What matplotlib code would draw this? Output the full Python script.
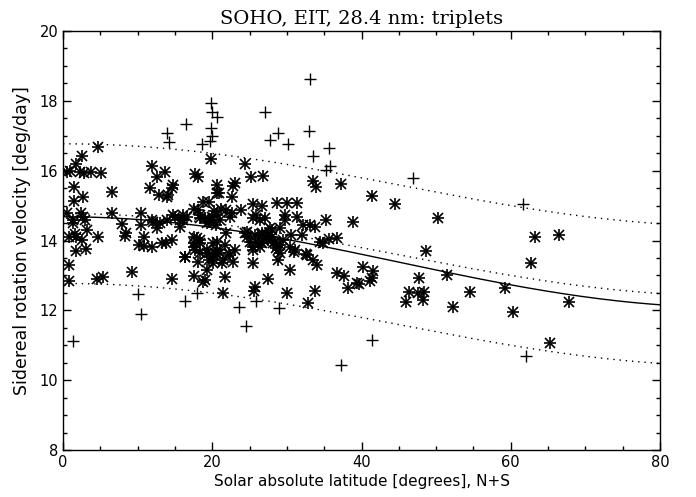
import numpy as np
import matplotlib
matplotlib.use("Agg")
import matplotlib.pyplot as plt
from matplotlib.ticker import MultipleLocator

TITLE = "SOHO, EIT, 28.4 nm: triplets"
XLABEL = "Solar absolute latitude [degrees], N+S"
YLABEL = "Sidereal rotation velocity [deg/day]"

# tracers inside the +/- 2 deg/day band (asterisks)
ast_lat = [
    4.7, 2.6, 1.8, 0.5, 0.9, 2.3, 2.8, 3.8, 5.1, 1.5, 2.7, 1.5, 6.6, 0.5, 2.4,
    1.4, 2.7, 6.5, 7.9, 8.5, 8.3, 4.7, 3.2, 0.8, 1.8, 2.5, 1.8, 3.1, 0.8, 0.8,
    4.5, 5.3, 9.3, 1.4, 1.6, 2.9,
    10.5, 10.5, 10.8, 10.2, 10.8, 11.9, 13.2, 13.8, 14.6, 11.9, 12.6, 13.7,
    11.7, 12.8, 13.9, 11.9, 12.6, 13.9, 13.0, 12.1, 14.8, 14.6, 14.1, 14.8,
    15.0, 15.7, 14.6, 15.7, 16.1, 16.6, 16.1,
    19.8, 17.7, 18.1, 20.6, 20.6, 18.8, 19.5, 17.5, 18.4, 19.3, 20.1, 17.5,
    18.4, 16.3, 17.7, 19.3, 20.4, 17.5, 19.0, 19.3, 17.5, 18.4, 18.1, 20.1,
    20.6, 18.4, 19.0, 19.9, 20.6, 21.0, 17.9, 18.4, 17.5, 20.1, 20.6, 19.3,
    21.0, 19.9, 18.8, 20.9, 16.4, 21.9, 21.7, 21.7, 21.5, 21.9, 22.4, 22.6,
    20.1, 21.5, 22.2, 21.3, 19.5, 18.1, 20.2, 21.2, 19.5, 20.5,
    23.0, 22.4, 22.8, 24.4, 25.2, 26.8, 23.0, 22.8, 22.6, 23.9, 25.5, 26.6,
    28.7, 30.0, 31.4, 25.5, 26.4, 27.1, 25.9, 29.7, 31.3, 29.7, 32.2, 33.1,
    33.8, 29.1, 28.0, 24.4, 25.7, 26.6, 27.5, 24.6, 25.1, 25.5, 26.4, 25.9,
    26.8, 28.4, 29.1, 28.8, 30.4, 31.1, 30.9, 30.6, 32.0, 34.4, 34.9, 36.7,
    35.7, 32.7, 33.5, 34.0, 25.5, 28.8, 30.4, 27.5, 25.7, 25.6, 30.0, 33.8,
    32.8, 36.7, 37.6, 39.4, 38.2, 33.5, 33.9, 37.3, 35.3, 38.8, 29.5, 28.6,
    29.1, 32.6, 26.6, 25.5, 27.5, 27.7, 28.0, 28.2, 24.6, 26.6,
    40.2, 41.6, 41.4, 41.1, 39.6, 41.4, 44.5, 50.3, 63.2, 66.5, 62.7, 48.7,
    47.7, 51.5, 46.3, 46.0, 47.6, 48.4, 48.3, 54.5, 52.3, 59.2, 60.3, 65.2,
    67.8,
]
ast_vel = [
    16.69, 16.42, 16.18, 15.97, 16.00, 15.97, 15.92, 15.97, 15.94, 15.52, 15.26,
    15.14, 15.40, 14.80, 14.80, 14.59, 14.67, 14.78, 14.47, 14.21, 14.13, 14.09,
    14.30, 14.11, 14.09, 14.01, 13.70, 13.75, 13.30, 12.84, 12.90, 12.96, 13.11,
    14.49, 14.18, 14.59,
    14.78, 14.44, 14.11, 13.87, 13.84, 13.82, 13.92, 13.94, 14.01, 16.14, 15.83,
    15.97, 15.49, 15.30, 15.26, 14.59, 14.35, 14.59, 14.49, 14.54, 15.59, 15.49,
    15.30, 14.73, 14.68, 14.59, 12.90, 14.40, 14.59, 14.68, 14.73,
    16.33, 15.90, 15.83, 15.59, 15.35, 15.11, 15.11, 14.89, 14.64, 14.49, 14.59,
    14.11, 14.01, 13.54, 13.73, 13.63, 13.63, 12.98, 12.87, 13.16, 13.82, 13.63,
    13.39, 13.59, 13.97, 14.73, 14.64, 14.68, 14.73, 14.59, 14.06, 13.92, 13.92,
    13.92, 13.73, 13.73, 13.63, 13.54, 12.82, 15.37, 13.52, 14.21, 13.87, 12.96,
    12.51, 14.87, 14.68, 14.78, 13.35, 13.44, 13.63, 13.35, 13.44, 14.87, 14.85,
    14.90, 14.52, 14.45,
    13.73, 13.59, 13.39, 16.18, 15.83, 15.86, 15.64, 15.56, 15.24, 14.87, 15.05,
    14.99, 15.07, 15.07, 15.07, 14.64, 14.59, 14.64, 14.73, 14.73, 14.68, 14.59,
    14.44, 14.44, 14.40, 14.35, 14.30, 14.21, 14.16, 14.21, 14.16, 14.11, 13.97,
    13.82, 13.82, 13.97, 14.01, 13.97, 13.87, 13.73, 13.82, 13.73, 13.68, 14.16,
    14.16, 13.97, 13.92, 14.06, 14.03, 13.59, 13.44, 13.30, 13.35, 13.44, 13.16,
    12.89, 12.68, 12.56, 12.49, 12.55, 12.20, 13.06, 12.98, 12.77, 12.63, 15.71,
    15.54, 15.61, 14.59, 14.54, 14.01, 13.78, 13.63, 13.61, 13.92, 13.73, 14.01,
    14.35, 14.11, 13.92, 14.25, 14.16,
    13.23, 13.14, 12.92, 12.85, 12.75, 15.28, 15.04, 14.65, 14.09, 14.16, 13.35,
    13.70, 12.92, 13.01, 12.53, 12.25, 12.49, 12.53, 12.30, 12.53, 12.10, 12.63,
    11.94, 11.07, 12.25,
]

# tracers outside the band (plus signs)
plus_lat = [
    13.9, 14.2, 16.5, 19.8, 20.0, 20.6, 19.8, 19.9, 19.7, 18.6, 27.1, 28.8,
    27.7, 30.1, 32.9, 33.1, 33.5, 35.7, 35.8, 35.3, 46.9, 61.6,
    1.3, 10.0, 10.4, 16.3, 17.9, 23.6, 24.5, 25.8, 28.9, 37.2, 41.4, 62.0,
]
plus_vel = [
    17.07, 16.83, 17.34, 17.93, 17.69, 17.55, 17.21, 16.99, 16.85, 16.75, 17.67,
    17.09, 16.88, 16.76, 17.15, 18.62, 16.43, 16.64, 16.12, 16.02, 15.78, 15.04,
    11.12, 12.47, 11.89, 12.27, 12.51, 12.09, 11.56, 12.27, 12.06, 10.44, 11.15,
    10.69,
]

# fitted differential rotation: A + B sin^2(lat) (+ C sin^4(lat))
fit_solid = (14.68, -2.60, 0.0)
fit_dotted = (14.77, -2.36, 0.0)
band = 2.0


def rotation(lat, coeffs):
    s2 = np.sin(np.radians(lat)) ** 2
    a, b, c = coeffs
    return a + b * s2 + c * s2 ** 2


def main():
    fig = plt.figure(figsize=(6.96, 4.97), dpi=100)
    ax = fig.add_axes([63 / 696, 1 - 450 / 497, 597 / 696, 419 / 497])

    ax.plot(ast_lat, ast_vel, ls="none", marker="+", ms=9, mew=1.2, color="black")
    ax.plot(ast_lat, ast_vel, ls="none", marker="x", ms=6.5, mew=1.2, color="black")
    ax.plot(plus_lat, plus_vel, ls="none", marker="+", ms=9, mew=1.0, color="black")

    lat = np.linspace(0, 80, 200)
    ax.plot(lat, rotation(lat, fit_solid), color="black", lw=1.0)
    mid = rotation(lat, fit_dotted)
    for off in (-band, 0.0, band):
        ax.plot(lat, mid + off, color="black", lw=1.0, ls=(0, (1, 3.5)))

    ax.set_xlim(0, 80)
    ax.set_ylim(8, 20)
    ax.xaxis.set_major_locator(MultipleLocator(20))
    ax.xaxis.set_minor_locator(MultipleLocator(5))
    ax.yaxis.set_major_locator(MultipleLocator(2))
    ax.yaxis.set_minor_locator(MultipleLocator(0.5))
    ax.tick_params(which="both", direction="in", top=True, right=True,
                   labelsize=10.5, width=1.0)
    ax.tick_params(which="major", length=6)
    ax.tick_params(which="minor", length=3)
    for sp in ax.spines.values():
        sp.set_linewidth(1.0)

    ax.set_xlabel(XLABEL, fontsize=11, labelpad=3)
    ax.set_ylabel(YLABEL, fontsize=12.5, labelpad=6)
    ax.set_title(TITLE, fontsize=14, family="DejaVu Serif", pad=5)

    fig.savefig("out.png", dpi=100)


if __name__ == "__main__":
    main()
